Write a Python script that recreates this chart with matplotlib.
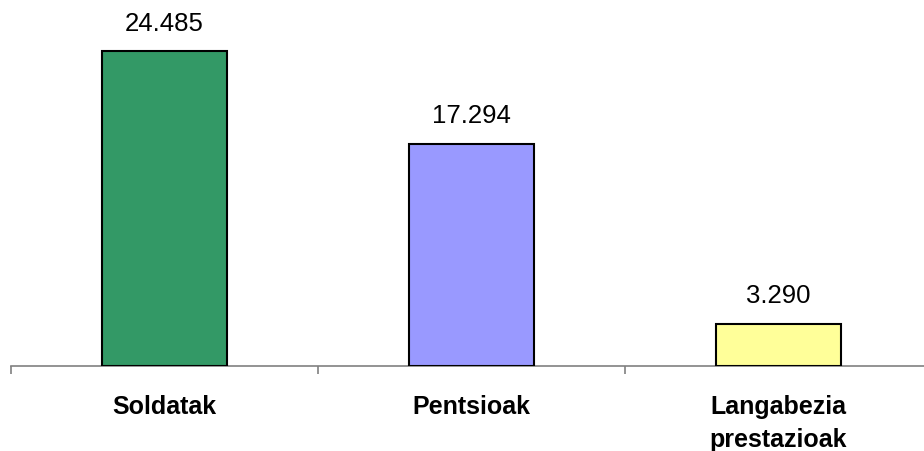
import numpy as np
import matplotlib.pyplot as plt

# datuak
categories = ['Soldatak', 'Pentsioak', 'Langabezia\nprestazioak']
values = [24485, 17294, 3290]
colors = ['#339966', '#9999FF', '#FFFF99']

plt.rcParams['font.family'] = ['Liberation Sans', 'DejaVu Sans']

fig = plt.figure(figsize=(9.24, 4.51), dpi=100)
# ardatza irudiaren eskuinaldetik pixka bat kanpora doa
ax = fig.add_axes([11 / 924, 85 / 451, 921 / 924, 340 / 451])

x = np.arange(len(categories))
bars = ax.bar(x, values, width=0.41, color=colors, edgecolor='black', linewidth=1.5, zorder=3)

for b, v in zip(bars, values):
    txt = f"{v:,}".replace(',', '.')
    ax.annotate(txt, (b.get_x() + b.get_width() / 2, v), xytext=(0, 11), textcoords='offset points',
                ha='center', va='bottom', fontsize=18.5)

ax.set_xlim(-0.5, 2.5)
ax.set_ylim(0, 24485 * 340 / 315)

for s in ['top', 'right', 'left']:
    ax.spines[s].set_visible(False)
ax.spines['bottom'].set_color('#808080')
ax.spines['bottom'].set_linewidth(1.2)

ax.set_yticks([])
ax.set_xticks(x)
ax.set_xticklabels(categories, fontsize=18, fontweight='bold', linespacing=1.45)
ax.tick_params(axis='x', which='major', length=0, pad=21)
ax.set_xticks([-0.5, 0.5, 1.5, 2.5], minor=True)
ax.tick_params(axis='x', which='minor', length=6, color='#808080', width=1.2, direction='out')

fig.savefig('out.png', dpi=100)
